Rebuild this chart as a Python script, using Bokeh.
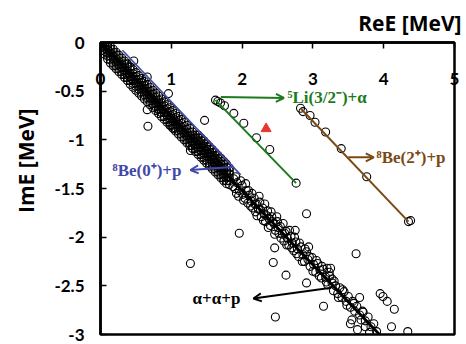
from bokeh.plotting import figure
from bokeh.models import Range1d, FixedTicker, NumeralTickFormatter, Label, Arrow, OpenHead, Title
from bokeh.embed import file_html
from bokeh.resources import INLINE

# ---- eigenvalues (ReE, ImE) in MeV ----
# dense continuum band near the origin: (ReE, [ImE, ...]) rows
band_rows = [
    (0.02, [-0.01, -0.03, -0.05, -0.08]),
    (0.06, [-0.01, -0.03, -0.06, -0.09, -0.12]),
    (0.10, [-0.02, -0.05, -0.08, -0.11, -0.14, -0.17]),
    (0.14, [-0.04, -0.07, -0.11, -0.14, -0.18, -0.21]),
    (0.18, [-0.07, -0.10, -0.14, -0.17, -0.21, -0.24]),
    (0.22, [-0.10, -0.13, -0.17, -0.20, -0.24, -0.27]),
    (0.26, [-0.13, -0.16, -0.20, -0.23, -0.27, -0.30]),
    (0.30, [-0.16, -0.19, -0.23, -0.26, -0.30, -0.33]),
    (0.34, [-0.19, -0.22, -0.26, -0.29, -0.33, -0.36]),
    (0.38, [-0.22, -0.25, -0.29, -0.32, -0.36, -0.39]),
    (0.42, [-0.25, -0.28, -0.32, -0.35, -0.39, -0.43]),
    (0.46, [-0.28, -0.32, -0.35, -0.39, -0.42, -0.46]),
    (0.50, [-0.31, -0.35, -0.38, -0.42, -0.45, -0.49]),
    (0.54, [-0.34, -0.38, -0.41, -0.45, -0.48, -0.52]),
    (0.58, [-0.37, -0.41, -0.44, -0.48, -0.51, -0.55]),
    (0.62, [-0.40, -0.44, -0.47, -0.51, -0.54, -0.58]),
    (0.66, [-0.43, -0.47, -0.50, -0.54, -0.57, -0.61]),
    (0.70, [-0.46, -0.50, -0.53, -0.57, -0.60, -0.64]),
    (0.74, [-0.49, -0.53, -0.56, -0.60, -0.63, -0.67]),
    (0.78, [-0.52, -0.56, -0.59, -0.63, -0.66, -0.70]),
    (0.82, [-0.55, -0.59, -0.62, -0.66, -0.69, -0.73]),
    (0.86, [-0.58, -0.62, -0.65, -0.69, -0.72, -0.76]),
    (0.90, [-0.61, -0.65, -0.69, -0.72, -0.76, -0.79]),
    (0.94, [-0.64, -0.68, -0.72, -0.75, -0.79, -0.82]),
    (0.98, [-0.67, -0.71, -0.75, -0.78, -0.82, -0.85]),
    (1.02, [-0.70, -0.74, -0.78, -0.81, -0.85, -0.88]),
    (1.06, [-0.73, -0.77, -0.81, -0.84, -0.88, -0.91]),
    (1.10, [-0.76, -0.80, -0.84, -0.87, -0.91, -0.94]),
    (1.14, [-0.79, -0.83, -0.87, -0.90, -0.94, -0.97]),
    (1.18, [-0.82, -0.86, -0.90, -0.93, -0.97, -1.00]),
    (1.22, [-0.85, -0.89, -0.93, -0.96, -1.00, -1.03]),
    (1.26, [-0.88, -0.92, -0.96, -0.99, -1.03, -1.06]),
    (1.30, [-0.92, -0.95, -0.99, -1.02, -1.06, -1.09]),
    (1.34, [-0.95, -0.98, -1.02, -1.05, -1.09, -1.12]),
    (1.38, [-0.95, -0.98, -1.01, -1.05, -1.08, -1.12, -1.15]),
    (1.42, [-0.98, -1.01, -1.04, -1.08, -1.11, -1.15, -1.18]),
    (1.46, [-1.01, -1.04, -1.07, -1.11, -1.14, -1.18, -1.21]),
    (1.50, [-1.04, -1.07, -1.10, -1.14, -1.17, -1.21, -1.24]),
    (1.54, [-1.07, -1.10, -1.13, -1.17, -1.20, -1.24, -1.27]),
    (1.58, [-1.10, -1.13, -1.16, -1.20, -1.23, -1.27, -1.30]),
    (1.62, [-1.13, -1.16, -1.19, -1.23, -1.26, -1.30, -1.33]),
    (1.66, [-1.16, -1.19, -1.22, -1.26, -1.29, -1.33, -1.36]),
    (1.70, [-1.19, -1.22, -1.25, -1.29, -1.32, -1.36, -1.39]),
    (1.74, [-1.22, -1.25, -1.29, -1.32, -1.36, -1.39, -1.42]),
    (1.78, [-1.25, -1.28, -1.32, -1.35, -1.39, -1.42, -1.45]),
    (1.82, [-1.29, -1.32, -1.35, -1.39, -1.42, -1.46]),
]
# sparser continuum further out
band_tail = [
    (1.88, -1.40), (1.90, -1.50), (1.93, -1.44), (1.92, -1.55), (1.96, -1.52), (2.00, -1.47),
    (2.01, -1.56), (2.04, -1.60), (2.06, -1.52), (2.08, -1.65), (2.10, -1.57), (2.13, -1.63),
    (2.15, -1.70), (2.17, -1.60), (2.19, -1.74), (2.20, -1.66), (2.23, -1.71), (2.25, -1.64),
    (2.27, -1.79), (2.29, -1.70), (2.31, -1.76), (2.33, -1.84), (2.36, -1.73), (2.38, -1.81),
    (2.40, -1.88), (2.42, -1.79), (2.45, -1.86), (2.47, -1.93), (2.50, -1.84), (2.52, -1.96),
    (2.54, -1.89), (2.57, -1.97), (2.59, -2.04), (2.62, -1.94), (2.64, -2.01), (2.66, -2.08),
    (2.69, -1.99), (2.71, -2.06), (2.73, -2.14), (2.76, -2.05), (2.78, -2.12), (2.80, -2.20),
    (2.83, -2.10), (2.86, -2.18), (2.88, -2.25), (2.91, -2.15), (2.93, -2.23), (2.96, -2.30),
    (2.99, -2.21), (3.01, -2.28), (3.04, -2.36), (3.07, -2.27), (3.10, -2.34), (3.12, -2.42),
    (3.15, -2.33), (3.18, -2.41), (3.21, -2.49), (3.24, -2.40), (3.27, -2.47), (3.29, -2.55),
    (3.32, -2.50), (3.35, -2.58), (3.38, -2.52), (3.41, -2.62), (3.44, -2.56), (3.47, -2.66),
    (3.50, -2.61), (3.53, -2.72), (3.56, -2.66), (3.59, -2.76), (3.62, -2.71), (3.66, -2.80),
    (3.70, -2.76), (3.74, -2.86), (3.78, -2.82), (3.82, -2.92), (3.86, -2.89), (3.90, -2.97),
    (1.87, -1.48), (1.91, -1.38), (1.95, -1.58), (1.98, -1.42), (2.02, -1.62), (2.05, -1.45),
    (2.09, -1.52), (2.12, -1.68), (2.14, -1.55), (2.18, -1.66), (2.21, -1.78), (2.24, -1.58),
    (2.26, -1.72), (2.30, -1.83), (2.32, -1.66), (2.35, -1.78), (2.37, -1.90), (2.41, -1.74),
    (2.43, -1.84), (2.46, -1.97), (2.49, -1.79), (2.51, -1.90), (2.55, -2.01), (2.58, -1.86),
    (2.60, -1.96), (2.63, -2.08), (2.67, -1.93), (2.70, -2.11), (2.74, -2.00), (2.77, -2.17),
    (2.81, -2.06), (2.85, -2.25), (2.89, -2.12), (2.95, -2.20), (3.00, -2.35), (3.05, -2.24),
    (3.09, -2.40), (3.13, -2.30), (3.19, -2.46), (3.23, -2.36), (3.30, -2.45), (3.36, -2.62),
    (3.42, -2.54), (3.48, -2.70), (3.58, -2.68), (3.68, -2.85), (3.80, -2.98),
]
scattered = [
    (0.47, -0.19), (0.66, -0.355), (0.96, -0.525), (0.66, -0.69), (0.67, -0.86), (1.47, -0.80),
    (1.27, -1.11), (0.99, -0.85), (1.035, -0.886), (0.44, -0.37), (0.71, -0.575), (0.82, -0.68),
    (1.27, -2.27), (1.96, -1.96), (2.44, -2.26), (2.62, -2.39), (2.46, -2.11), (2.94, -2.10),
    (2.75, -1.93), (3.20, -2.32), (3.25, -2.32), (3.27, -2.43), (2.91, -1.76), (3.61, -2.17),
    (2.47, -2.82), (3.66, -2.62), (3.95, -2.58), (3.99, -2.61), (4.05, -2.66), (4.15, -2.74),
    (4.11, -2.92), (4.34, -2.97), (3.15, -2.71), (2.91, -2.47), (3.71, -2.77), (3.53, -2.89),
    (3.55, -2.85), (3.63, -2.95), (3.74, -2.92),
]
# 5Li(3/2-)+alpha channel
li5_re = [1.624, 1.657, 1.695, 1.751, 1.883, 2.024, 2.203, 2.391, 2.763]
li5_im = [-0.592, -0.606, -0.622, -0.650, -0.728, -0.829, -0.978, -1.099, -1.445]
# 8Be(2+)+p channel
be2_re = [2.825, 2.86, 2.96, 3.03, 3.18, 3.40, 3.76, 4.35, 4.38]
be2_im = [-0.675, -0.71, -0.75, -0.82, -0.92, -1.09, -1.38, -1.84, -1.83]
# resonance pole
res_re = [2.339]
res_im = [-0.886]
# guide lines (ReE endpoints, ImE endpoints)
aap_line_re = [0.0, 3.94]
aap_line_im = [0.0, -3.0]
be0_line_re = [0.31, 1.98]
be0_line_im = [-0.08, -1.36]

x_ticks = [0, 1, 2, 3, 4, 5]
y_ticks = [-3, -2.5, -2, -1.5, -1, -0.5, 0]

cont_re, cont_im = [], []
for re_val, im_vals in band_rows:
    for im_val in im_vals:
        cont_re.append(re_val)
        cont_im.append(im_val)
for re_val, im_val in band_tail + scattered:
    cont_re.append(re_val)
    cont_im.append(im_val)

BLUE = "#4148a6"
GREEN = "#1d7a1d"
BROWN = "#7a4a16"
RED = "#e8352f"
TICK_FONT = "Lato"
TITLE_FONT = "Open Sans"
NOTE_FONT = "Liberation Serif"

p = figure(width=466, height=344, output_backend="svg", toolbar_location=None,
           x_range=Range1d(0, 5), y_range=Range1d(-3, 0), x_axis_location="above",
           min_border_left=100, min_border_right=12, min_border_top=41, min_border_bottom=10)
p.grid.visible = False
p.outline_line_color = "black"
p.outline_line_width = 2.5
p.background_fill_color = "white"
p.border_fill_color = "white"

for ax in (p.xaxis[0], p.yaxis[0]):
    ax.axis_line_width = 2.5
    ax.major_tick_in = 6
    ax.major_tick_out = 0
    ax.major_tick_line_width = 1.5
    ax.minor_tick_line_color = None
    ax.major_label_text_font = TICK_FONT
    ax.major_label_text_font_style = "bold"
    ax.major_label_text_font_size = "17px"
    ax.major_label_text_color = "black"

p.xaxis.ticker = FixedTicker(ticks=x_ticks)
p.xaxis.formatter = NumeralTickFormatter(format="0")
p.xaxis.major_label_standoff = -42
p.yaxis.ticker = FixedTicker(ticks=y_ticks)
p.yaxis.formatter = NumeralTickFormatter(format="0.[0]")
p.yaxis.major_label_standoff = 16

# axis titles
p.title.text = "ReE [MeV]"
p.title.align = "right"
p.title.offset = -7
p.title.standoff = 12
p.title.text_font = TITLE_FONT
p.title.text_font_style = "bold"
p.title.text_font_size = "21px"
p.title.text_color = "black"
p.add_layout(Title(text="ImE [MeV]", align="right", offset=66, standoff=20,
                   vertical_align="top", text_font=TITLE_FONT, text_font_style="bold",
                   text_font_size="21px", text_color="black"), "left")

# eigenvalue markers
p.scatter(cont_re, cont_im, marker="circle", size=8, fill_color=None,
          line_color="black", line_width=1.1)
p.scatter(li5_re, li5_im, marker="circle", size=8, fill_color=None,
          line_color="black", line_width=1.1)
p.scatter(be2_re, be2_im, marker="circle", size=8, fill_color=None,
          line_color="black", line_width=1.1)
p.scatter(res_re, res_im, marker="triangle", size=10, fill_color=RED, line_color=RED)

# rotated-threshold guide lines
p.line(aap_line_re, aap_line_im, line_color="black", line_width=2.8)
p.line(be0_line_re, be0_line_im, line_color=BLUE, line_width=1.6)
p.line([li5_re[0], li5_re[-1]], [li5_im[0], li5_im[-1]], line_color=GREEN, line_width=2)
p.line([be2_re[0], be2_re[-2]], [be2_im[0], be2_im[-2]], line_color=BROWN, line_width=2)

# channel annotations
def note(x, y, text, color):
    p.add_layout(Label(x=x, y=y, text=text, text_color=color, text_font=NOTE_FONT,
                       text_font_style="bold", text_font_size="17px", text_baseline="middle"))

def pointer(x0, y0, x1, y1, color):
    p.add_layout(Arrow(end=OpenHead(size=8, line_width=2, line_color=color),
                       x_start=x0, y_start=y0, x_end=x1, y_end=y1,
                       line_color=color, line_width=2))

pointer(1.86, -1.28, 1.27, -1.31, BLUE)
note(0.17, -1.31, "⁸Be(0⁺)+p", BLUE)
pointer(1.70, -0.56, 2.59, -0.57, GREEN)
note(2.64, -0.57, "⁵Li(3/2⁻)+α", GREEN)
pointer(3.50, -1.18, 3.86, -1.18, BROWN)
note(3.90, -1.18, "⁸Be(2⁺)+p", BROWN)
pointer(3.26, -2.52, 2.16, -2.63, "black")
note(1.30, -2.63, "α+α+p", "black")

open("out.html", "w").write(file_html(p, INLINE))
